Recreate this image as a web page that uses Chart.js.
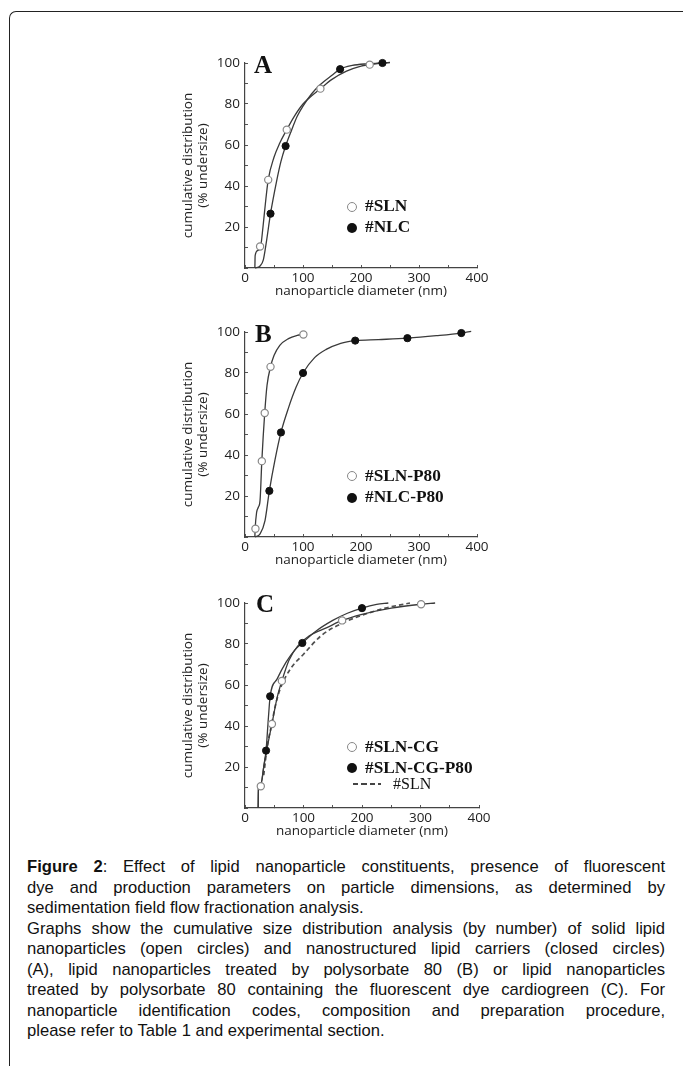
<!DOCTYPE html>
<html>
<head>
<meta charset="utf-8">
<script src="https://cdn.jsdelivr.net/npm/chart.js@4.4.0/dist/chart.umd.min.js"></script>
<style>
body { margin: 0; width: 683px; height: 1066px; position: relative; overflow: hidden; background: #fff; font-family: "Liberation Sans", Arial, sans-serif; color: #111; }
.frame { position: absolute; left: 9px; top: 11px; width: 673px; height: 1100px; border-top: 1.5px solid #222; border-left: 1.5px solid #222; border-top-left-radius: 7px; }
.panel { position: absolute; left: 170px; width: 330px; height: 265px; }
.letter { position: absolute; font: bold 25px/24px "Liberation Serif", serif; color: #111; }
.row { position: absolute; left: 365px; height: 20px; line-height: 20px; font: bold 17.3px/20px "Liberation Serif", serif; color: #111; white-space: nowrap; }
.mk { position: absolute; left: 347px; width: 10px; height: 10px; border-radius: 50%; box-sizing: border-box; }
.mk.open { border: 1.4px solid #888; background: #fff; }
.mk.fill { background: #111; }
.dash { position: absolute; left: 353px; width: 28px; height: 1.8px; background: repeating-linear-gradient(to right, #444 0 5px, transparent 5px 8.5px); }
.caption { position: absolute; left: 27px; top: 857px; width: 638px; font-size: 16.6px; line-height: 20.5px; }
.caption div { text-align: justify; text-align-last: justify; white-space: nowrap; }
.caption div.end { text-align-last: left; }
</style>
</head>
<body>
<div class="frame"></div>

<canvas id="chartA" class="panel" width="330" height="265" style="top:40px"></canvas>
<canvas id="chartB" class="panel" width="330" height="265" style="top:309px"></canvas>
<canvas id="chartC" class="panel" width="330" height="265" style="top:580px"></canvas>

<div class="letter" style="left:254px;top:53px">A</div>
<div class="letter" style="left:255px;top:322px">B</div>
<div class="letter" style="left:256px;top:592px">C</div>

<span class="mk open" style="top:201.5px"></span><div class="row" style="top:196px">#SLN</div>
<span class="mk fill" style="top:222.5px"></span><div class="row" style="top:217px">#NLC</div>

<span class="mk open" style="top:471px"></span><div class="row" style="top:466px">#SLN-P80</div>
<span class="mk fill" style="top:492.5px"></span><div class="row" style="top:487px">#NLC-P80</div>

<span class="mk open" style="top:742px"></span><div class="row" style="top:737px">#SLN-CG</div>
<span class="mk fill" style="top:763px"></span><div class="row" style="top:758px">#SLN-CG-P80</div>
<div class="dash" style="top:783px"></div><div class="row" style="left:393px;top:774px;font-weight:normal;font-size:16px">#SLN</div>

<div class="caption">
  <div><b>Figure 2</b>: Effect of lipid nanoparticle constituents, presence of fluorescent</div>
  <div>dye and production parameters on particle dimensions, as determined by</div>
  <div class="end">sedimentation field flow fractionation analysis.</div>
  <div>Graphs show the cumulative size distribution analysis (by number) of solid lipid</div>
  <div>nanoparticles (open circles) and nanostructured lipid carriers (closed circles)</div>
  <div>(A), lipid nanoparticles treated by polysorbate 80 (B) or lipid nanoparticles</div>
  <div>treated by polysorbate 80 containing the fluorescent dye cardiogreen (C). For</div>
  <div>nanoparticle identification codes, composition and preparation procedure,</div>
  <div class="end">please refer to Table 1 and experimental section.</div>
</div>

<script>
// ===== Data: panel A =====
const aSlnX = [26, 40, 72, 130, 215];
const aSlnY = [10.5, 43, 67.5, 87.5, 99.2];
const aNlcX = [44, 70, 164, 237];
const aNlcY = [26.5, 59.5, 97, 100];
const aSlnCurveX = [17, 17.5, 22, 27, 31, 35, 40, 50, 60, 72, 85, 100, 115, 130, 150, 175, 200, 215, 235, 250];
const aSlnCurveY = [0, 6, 8.5, 10.5, 20, 31, 43, 54, 61, 67.5, 74, 80, 84, 87.5, 92, 96, 98.5, 99.2, 100, 100.2];
const aNlcCurveX = [17, 26, 31.6, 37, 44, 54.6, 62, 70, 80, 90, 100, 115, 130, 150, 164, 185, 210, 237, 250];
const aNlcCurveY = [0, 1, 4, 13, 26.5, 42.5, 52, 59.5, 67, 74, 79, 85, 89.5, 94, 97, 98.8, 99.6, 100, 100.3];

// ===== Data: panel B =====
const bSlnX = [18, 29, 34, 44, 100.7];
const bSlnY = [4, 37, 60.5, 83, 98.8];
const bNlcX = [42, 62, 100, 190, 280, 373];
const bNlcY = [22.5, 51, 80, 95.8, 97, 99.5];
const bSlnCurveX = [17, 17.5, 20, 23, 26, 29, 34, 38, 44, 50, 60, 75, 90, 100.7];
const bSlnCurveY = [0, 4, 12, 14.5, 18, 37, 60.5, 74, 83, 88.5, 93.5, 96.8, 98.3, 98.8];
const bNlcCurveX = [17, 26, 34.5, 42, 51.7, 62, 75, 88, 100, 120, 140, 165, 190, 230, 280, 330, 373, 390];
const bNlcCurveY = [0, 1.5, 8, 22.5, 37.6, 51, 63, 73, 80, 87.5, 91.5, 94.5, 95.8, 96.3, 97, 98.2, 99.5, 100.3];

// ===== Data: panel C =====
const cCgX = [27, 46, 63, 166, 301];
const cCgY = [10.6, 41, 62, 91.5, 99.4];
const cCgP80X = [36, 43, 98, 200];
const cCgP80Y = [28, 54.5, 80.5, 97.5];
const cCgCurveX = [22.5, 23, 27, 32, 37, 46, 55, 63, 75, 90, 110, 140, 166, 200, 250, 301, 325];
const cCgCurveY = [0, 11, 11, 20, 28, 41, 54, 62, 72, 79, 84, 88, 91.5, 94.5, 97.5, 99.4, 100];
const cCgP80CurveX = [22.5, 23, 27, 33, 36, 40, 43, 55, 70, 85, 98, 120, 150, 175, 200, 225, 245];
const cCgP80CurveY = [0, 11, 12, 22, 28, 44, 54.5, 63, 71, 77, 80.5, 86, 91.5, 95, 97.5, 99.3, 100];
const cSlnCurveX = [32, 38, 45, 52, 60, 78, 100, 130, 165, 200, 240, 282];
const cSlnCurveY = [16, 30, 40, 50, 58, 68, 75, 84, 90, 94, 97.5, 100];

// ===== Axis text =====
const xTitle = 'nanoparticle diameter (nm)';
const yTitle = ['cumulative distribution', '(% undersize)'];

// ===== Helpers =====
function pts(xs, ys) {
  return xs.map((x, i) => ({ x, y: ys[i] }));
}

function markers(xs, ys, open) {
  return {
    data: pts(xs, ys), showLine: false, clip: false,
    pointRadius: 3.6, pointBorderWidth: open ? 1.2 : 1,
    pointBackgroundColor: open ? '#fff' : '#111',
    pointBorderColor: open ? '#888' : '#111'
  };
}

function curve(xs, ys, dashed) {
  return {
    data: pts(xs, ys), showLine: true, clip: false, pointRadius: 0,
    borderColor: dashed ? '#505050' : '#3a3a3a', borderWidth: dashed ? 1.7 : 1.3,
    borderDash: dashed ? [4.5, 3] : [], cubicInterpolationMode: 'monotone'
  };
}

const tickFont = { family: 'Open Sans', size: 13.5 };
const titleFont = { family: 'Open Sans', size: 13.5, lineHeight: 1.11 };

function makePanel(id, areaRight, datasets) {
  new Chart(document.getElementById(id), {
    type: 'scatter',
    data: { datasets },
    options: {
      responsive: false, animation: false,
      layout: { padding: { left: 10.5, right: 330 - (areaRight - 170), top: 23, bottom: 6 } },
      plugins: { legend: { display: false }, tooltip: { enabled: false } },
      scales: {
        x: {
          type: 'linear', min: 0, max: 400,
          ticks: { stepSize: 50, autoSkip: false, maxRotation: 0, padding: 5, color: '#222', font: tickFont,
            callback: v => (v % 100 === 0 ? v : '') },
          grid: { drawOnChartArea: false, tickLength: -3, color: '#555' },
          border: { color: '#444', width: 1.2 },
          title: { display: true, text: xTitle, color: '#222', font: { family: 'Open Sans', size: 13.5 }, padding: 0 },
          afterFit: s => { s.height = 31; s.paddingLeft = 0; s.paddingRight = 0; }
        },
        y: {
          min: 0, max: 100,
          ticks: { stepSize: 10, autoSkip: false, padding: 8, color: '#222', font: tickFont,
            callback: v => (v > 0 && v % 20 === 0 ? v : '') },
          grid: { drawOnChartArea: false, tickLength: -3, color: '#555' },
          border: { color: '#444', width: 1.2 },
          title: { display: true, text: yTitle, color: '#222', font: titleFont, padding: 0 },
          afterFit: s => { s.width = 64.5; s.paddingTop = 0; s.paddingBottom = 0; }
        }
      }
    }
  });
}

// ===== Panels =====
makePanel('chartA', 477, [
  markers(aSlnX, aSlnY, true),
  markers(aNlcX, aNlcY, false),
  curve(aSlnCurveX, aSlnCurveY),
  curve(aNlcCurveX, aNlcCurveY)
]);

makePanel('chartB', 477, [
  markers(bSlnX, bSlnY, true),
  markers(bNlcX, bNlcY, false),
  curve(bSlnCurveX, bSlnCurveY),
  curve(bNlcCurveX, bNlcCurveY)
]);

makePanel('chartC', 479, [
  markers(cCgX, cCgY, true),
  markers(cCgP80X, cCgP80Y, false),
  curve(cCgCurveX, cCgCurveY),
  curve(cCgP80CurveX, cCgP80CurveY),
  curve(cSlnCurveX, cSlnCurveY, true)
]);
</script>
</body>
</html>
